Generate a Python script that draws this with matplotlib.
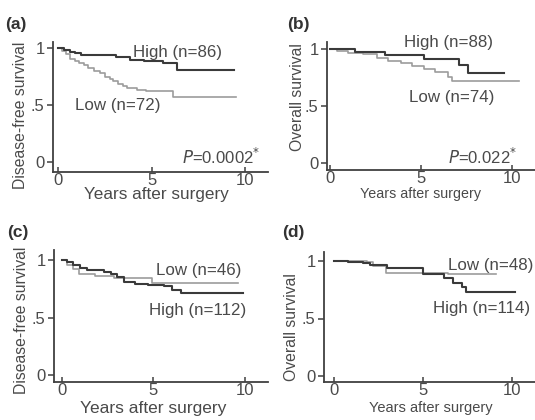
import matplotlib
matplotlib.use("Agg")
import matplotlib.pyplot as plt

plt.rcParams['font.family'] = ['Liberation Sans', 'DejaVu Sans']

# ---------------- data (years, survival proportion) ----------------
a_high_t = [0, 0.3, 0.6, 0.9, 1.2, 3.1, 3.85, 4.6, 5.6, 6.35, 9.4]
a_high_s = [1.0, 0.985, 0.97, 0.955, 0.94, 0.92, 0.90, 0.89, 0.87, 0.81, 0.81]
a_low_t = [0, 0.2, 0.4, 0.64, 0.9, 1.1, 1.35, 1.6, 1.9, 2.25, 2.5, 2.75, 2.95,
           3.2, 3.45, 3.7, 4.2, 4.7, 6.15, 9.5]
a_low_s = [1.0, 0.975, 0.95, 0.91, 0.89, 0.87, 0.85, 0.83, 0.80, 0.78, 0.75,
           0.73, 0.71, 0.69, 0.67, 0.65, 0.635, 0.625, 0.575, 0.575]

b_high_t = [0, 1.37, 3.0, 5.2, 7.1, 7.6, 9.6]
b_high_s = [1.0, 0.975, 0.95, 0.915, 0.86, 0.79, 0.79]
b_low_t = [0, 0.4, 1.0, 1.8, 2.6, 3.2, 3.9, 4.5, 5.2, 5.8, 6.5, 6.7, 10.4]
b_low_s = [1.0, 0.985, 0.97, 0.955, 0.92, 0.90, 0.88, 0.855, 0.83, 0.80, 0.76,
           0.72, 0.72]

c_high_t = [0, 0.3, 0.6, 1.0, 1.4, 2.3, 2.7, 3.0, 3.4, 4.0, 4.7, 5.6, 6.0, 6.5, 9.9]
c_high_s = [1.0, 0.98, 0.96, 0.93, 0.91, 0.90, 0.88, 0.855, 0.81, 0.795, 0.78,
            0.77, 0.74, 0.71, 0.71]
c_low_t = [0, 0.3, 0.6, 0.93, 1.8, 2.86, 4.9, 9.6]
c_low_s = [1.0, 0.96, 0.92, 0.88, 0.86, 0.84, 0.80, 0.80]

d_high_t = [0, 0.8, 1.65, 2.0, 2.96, 5.0, 6.2, 6.7, 7.2, 7.45, 10.2]
d_high_s = [1.0, 0.99, 0.98, 0.965, 0.94, 0.89, 0.85, 0.81, 0.77, 0.73, 0.73]
d_low_t = [0, 1.84, 2.2, 2.9, 6.4, 9.1]
d_low_s = [1.0, 0.99, 0.955, 0.90, 0.887, 0.887]

panel_labels = ['(a)', '(b)', '(c)', '(d)']
y_labels = ['Disease-free survival', 'Overall survival',
            'Disease-free survival', 'Overall survival']
x_label = 'Years after surgery'
x_ticks = [0, 5, 10]
y_ticks = [0, 0.5, 1]
y_tick_labels = ['0', '.5', '1']
group_labels = {
    'a': ('High (n=86)', 'Low (n=72)'),
    'b': ('High (n=88)', 'Low (n=74)'),
    'c': ('High (n=112)', 'Low (n=46)'),
    'd': ('High (n=114)', 'Low (n=48)'),
}
p_values = {'a': '0.0002', 'b': '0.022'}

# ---------------- layout ----------------
W, H = 535, 420
fig = plt.figure(figsize=(W / 100, H / 100), dpi=100)
fig.patch.set_facecolor('white')

DARK = '#3a3a3a'
LIGHT = '#9c9c9c'
TXT = '#4a4a4a'
AX = '#404040'

# pixel geometry: yaxis_x, right_end, xaxis_y, top_end, x0px, x10px, y0px, y1px
geom = {
    'a': (53, 268, 172, 42, 58.3, 245, 162, 48.3),
    'b': (327, 535, 170, 42, 330, 511.7, 163.3, 49.3),
    'c': (54, 268, 382, 250, 61.7, 245, 375, 260),
    'd': (324, 535, 382, 252, 334, 511.7, 376, 261),
}

curves = {
    'a': ((a_high_t, a_high_s), (a_low_t, a_low_s)),
    'b': ((b_high_t, b_high_s), (b_low_t, b_low_s)),
    'c': ((c_high_t, c_high_s), (c_low_t, c_low_s)),
    'd': ((d_high_t, d_high_s), (d_low_t, d_low_s)),
}

# text positions in data coords
high_pos = {'a': (6.36, 0.965), 'b': (6.5, 1.06), 'c': (7.4, 0.565), 'd': (8.3, 0.59)}
low_pos = {'a': (3.2, 0.50), 'b': (6.7, 0.58), 'c': (7.46, 0.91), 'd': (8.8, 0.965)}
p_pos = {'a': (10.8, 0.047), 'b': (10.3, 0.06)}

label_px = {'a': (5, 24), 'b': (287, 25), 'c': (7, 233), 'd': (282, 232)}
ylabel_px = {'a': (21, 115), 'b': (297, 97), 'c': (22, 320), 'd': (292, 327)}
xlabel_px = {'a': (156, 194), 'b': (421, 194), 'c': (153, 408), 'd': (431, 408)}
xlabel_fs = {'a': 12.3, 'b': 10.3, 'c': 12.5, 'd': 10.5}

for key, lab, ylab in zip('abcd', panel_labels, y_labels):
    yx, rx, by, ty, x0, x10, y0, y1 = geom[key]
    ax = fig.add_axes([yx / W, 1 - by / H, (rx - yx) / W, (by - ty) / H])
    sx = (x10 - x0) / 10.0
    sy = (y0 - y1)
    ax.set_xlim((yx - x0) / sx, (rx - x0) / sx)
    ax.set_ylim((y0 - by) / sy, (y0 - ty) / sy)

    (ht, hs), (lt, ls) = curves[key]
    ax.step(lt, ls, where='post', color=LIGHT, lw=1.2, zorder=2)
    ax.step(ht, hs, where='post', color=DARK, lw=1.5, zorder=3)

    for s in ['top', 'right']:
        ax.spines[s].set_visible(False)
    for s in ['left', 'bottom']:
        ax.spines[s].set_color(AX)
        ax.spines[s].set_linewidth(1.3)
    ax.set_xticks(x_ticks)
    ax.set_yticks(y_ticks)
    ax.set_yticklabels(y_tick_labels)
    ax.tick_params(axis='y', colors=AX, labelcolor=TXT, labelsize=12,
                   length=4, width=1.1, direction='out', pad=2.0)
    ax.tick_params(axis='x', colors=AX, labelcolor=TXT, labelsize=12,
                   length=3.5, width=1.1, direction='in', pad=0.5)
    ax.patch.set_alpha(0)

    hl, ll = group_labels[key]
    ax.text(*high_pos[key], hl, ha='center', va='center', fontsize=12.2, color=TXT)
    ax.text(*low_pos[key], ll, ha='center', va='center', fontsize=12.2, color=TXT)
    if key in p_values:
        ax.text(*p_pos[key], r'$\it{P}$' + '=' + p_values[key] + r'$^{*}$',
                ha='right', va='center', fontsize=12, color=TXT)

    lx, ly = label_px[key]
    fig.text(lx / W, 1 - ly / H, lab, ha='left', va='center', fontsize=12.5,
             color='#333333', fontweight='bold')
    yxp, yyp = ylabel_px[key]
    fig.text(yxp / W, 1 - yyp / H, ylab, rotation=90, ha='center', va='center',
             fontsize=11.3, color=TXT)
    xxp, xyp = xlabel_px[key]
    fig.text(xxp / W, 1 - xyp / H, x_label, ha='center', va='center',
             fontsize=xlabel_fs[key], color=TXT)

fig.savefig('out.png', dpi=100, facecolor='white')
